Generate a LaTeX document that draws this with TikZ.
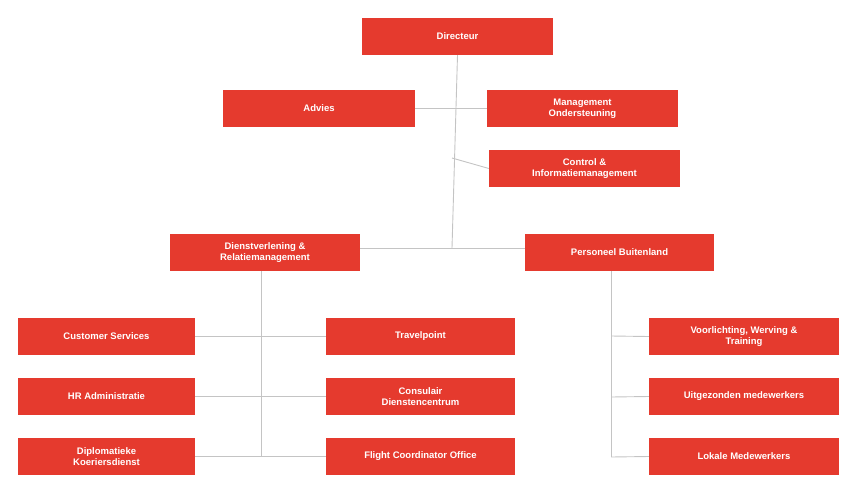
\documentclass[tikz,border=0pt]{standalone}
\usepackage{fontspec}
\setmainfont{Liberation Sans}
\definecolor{boxred}{HTML}{E53A2E}
\definecolor{ln}{HTML}{C4C4C4}
\begin{document}
\begin{tikzpicture}[x=1pt,y=-1pt,
 bx/.style={fill=boxred,text=white,font=\bfseries\fontsize{9.5}{10.5}\selectfont,align=center,inner sep=0pt},
 cn/.style={draw=ln,line width=0.9pt}]
\useasboundingbox (0,0) rectangle (862,493);
\newcommand\bxat[6]{\node[bx,minimum width=#4-#2,minimum height=#5-#3] (#1) at ({(#2+#4)/2},{(#3+#5)/2}) {#6};}
\bxat{dir}{362}{18}{553}{55}{Directeur}
\bxat{adv}{223}{90}{415}{127}{Advies}
\bxat{mo}{487}{90}{678}{127}{Management\\Ondersteuning}
\bxat{ci}{489}{150}{680}{187}{Control \&\\Informatiemanagement}
\bxat{dr}{170}{234}{360}{271}{Dienstverlening \&\\Relatiemanagement}
\bxat{pb}{525}{234}{714}{271}{Personeel Buitenland}
\bxat{cs}{18}{318}{195}{355}{Customer Services}
\bxat{tp}{326}{318}{515}{355}{Travelpoint}
\bxat{hr}{18}{378}{195}{415}{HR Administratie}
\bxat{cd}{326}{378}{515}{415}{Consulair\\Dienstencentrum}
\bxat{dk}{18}{438}{195}{475}{Diplomatieke\\Koeriersdienst}
\bxat{fc}{326}{438}{515}{475}{Flight Coordinator Office}
\bxat{vw}{649}{318}{839}{355}{Voorlichting, Werving \&\\Training}
\bxat{um}{649}{378}{839}{415}{Uitgezonden medewerkers}
\bxat{lm}{649}{438}{839}{475}{Lokale Medewerkers}
\begin{scope}[on background layer/.style={}]
\coordinate (j1) at (452,248);
\draw[cn] (dir.south) -- (j1);
\draw[cn] (adv.east) -- (mo.west);
\draw[cn] (452,158) -- (ci.west);
\draw[cn] (dr.east |- j1) -- (pb.west |- j1);
\draw[cn] (dr.south -| 261,0) -- (261,457);
\draw[cn] (cs.east) -- (tp.west);
\draw[cn] (hr.east) -- (cd.west);
\draw[cn] (dk.east) -- (fc.west);
\draw[cn] (pb.south -| 611,0) -- (611,457);
\draw[cn] (611,336) -- (vw.west);
\draw[cn] (611,397) -- (um.west);
\draw[cn] (611,457) -- (lm.west);
\end{scope}
\end{tikzpicture}
\end{document}
